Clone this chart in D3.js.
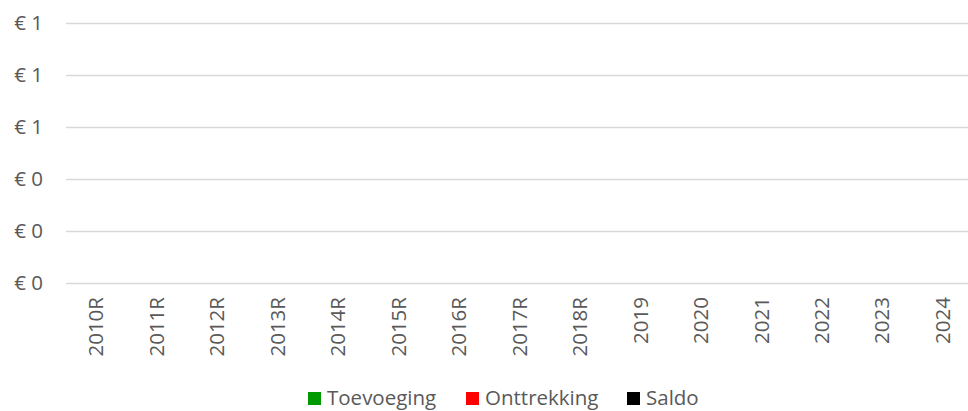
<!DOCTYPE html>
<html>
<head>
<meta charset="utf-8">
<script src="https://cdn.jsdelivr.net/npm/d3@7"></script>
<style>
  body { margin: 0; background: #fff; }
  svg { display: block; font-family: "Open Sans", "DejaVu Sans", sans-serif; }
  .lbl { fill: #595959; }
</style>
</head>
<body>
<script>
// categories on the x axis
var years = ["2010R", "2011R", "2012R", "2013R", "2014R", "2015R", "2016R", "2017R",
             "2018R", "2019", "2020", "2021", "2022", "2023", "2024"];
// series values (the reference chart holds no values)
var toevoeging  = [null, null, null, null, null, null, null, null, null, null, null, null, null, null, null];
var onttrekking = [null, null, null, null, null, null, null, null, null, null, null, null, null, null, null];
var saldo       = [null, null, null, null, null, null, null, null, null, null, null, null, null, null, null];
// y ticks
var yTicks = [0, 0.2, 0.4, 0.6, 0.8, 1];
var legendNames = ["Toevoeging", "Onttrekking", "Saldo"];
var legendColours = ["#009900", "#ff0000", "#000000"];

var width = 968, height = 411;
var svg = d3.select("body").append("svg")
            .attr("width", width)
            .attr("height", height);

// scales
var xScale = d3.scaleBand().domain(years).range([66, 973]);
var yScale = d3.scaleLinear().domain([0, 1]).range([283, 22.7]);

// gridlines
svg.append("g").selectAll("line")
   .data(yTicks).enter()
   .append("line")
   .attr("x1", 66)
   .attr("x2", 968)
   .attr("y1", function(d){ return Math.round(yScale(d)) + 0.5; })
   .attr("y2", function(d){ return Math.round(yScale(d)) + 0.5; })
   .attr("stroke", "#d9d9d9")
   .attr("stroke-width", 1.5);

// y axis labels
var fmt = d3.format(".0f");
svg.append("g").selectAll("text")
   .data(yTicks).enter()
   .append("text")
   .attr("class", "lbl")
   .attr("x", 43)
   .attr("y", function(d){ return yScale(d); })
   .attr("dy", "0.35em")
   .attr("text-anchor", "end")
   .style("font-size", "20.5px")
   .text(function(d){ return "€ " + fmt(d); });

// x axis labels, rotated
svg.append("g").selectAll("text")
   .data(years).enter()
   .append("text")
   .attr("class", "lbl")
   .attr("transform", function(d){
       return "translate(" + (xScale(d) + xScale.bandwidth() / 2) + ",297) rotate(-90)";
   })
   .attr("dy", "0.35em")
   .attr("text-anchor", "end")
   .style("font-size", "20.5px")
   .text(function(d){ return d; });

// bars (nothing drawn for empty values)
var sub = d3.scaleBand().domain([0, 1]).range([0, xScale.bandwidth()]).padding(0.2);
[toevoeging, onttrekking].forEach(function(series, s){
    svg.append("g").selectAll("rect")
       .data(series.map(function(v, i){ return {year: years[i], v: v}; })
                   .filter(function(d){ return d.v != null; }))
       .enter().append("rect")
       .attr("x", function(d){ return xScale(d.year) + sub(s); })
       .attr("width", sub.bandwidth())
       .attr("y", function(d){ return yScale(Math.max(0, d.v)); })
       .attr("height", function(d){ return Math.abs(yScale(d.v) - yScale(0)); })
       .attr("fill", legendColours[s]);
});

// saldo line
var line = d3.line()
             .defined(function(d){ return d != null; })
             .x(function(d, i){ return xScale(years[i]) + xScale.bandwidth() / 2; })
             .y(function(d){ return yScale(d); });
svg.append("path")
   .attr("d", line(saldo))
   .attr("fill", "none")
   .attr("stroke", legendColours[2])
   .attr("stroke-width", 2);

// legend
var legendX = [308, 466, 627];
var legend = svg.append("g");
legendNames.forEach(function(name, i){
    legend.append("rect")
          .attr("x", legendX[i])
          .attr("y", 392)
          .attr("width", 13)
          .attr("height", 13)
          .attr("fill", legendColours[i]);
    legend.append("text")
          .attr("class", "lbl")
          .attr("x", legendX[i] + 19)
          .attr("y", 405)
          .style("font-size", "20.5px")
          .text(name);
});
</script>
</body>
</html>
